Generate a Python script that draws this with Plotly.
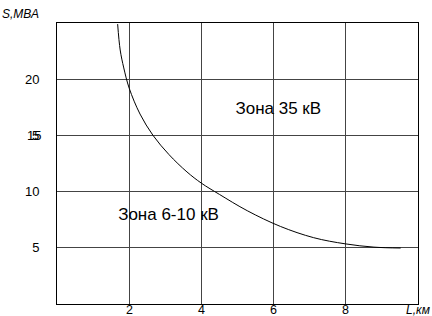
import plotly.graph_objects as go

# Curve data (L, km vs S, MVA)
L_km = [1.68, 1.75, 1.85, 2.0, 2.3, 2.66, 3.1, 3.6, 4.0, 4.5, 5.27, 6.19, 7.11, 7.99, 8.78, 9.52]
S_mva = [24.9, 22.6, 21.0, 19.2, 16.9, 15.0, 13.3, 11.75, 10.75, 9.75, 8.3, 6.9, 5.9, 5.35, 5.06, 4.98]

x_ticks = [2, 4, 6, 8]
x_ticktext = ["2", "4", "6", "8"]
y_ticks = [5, 10, 15, 20]
y_ticktext = ["5", "10", "", "20"]

zone_labels = ["Зона 35 кВ", "Зона 6-10 кВ"]
zone_x = [6.13, 3.09]
zone_y = [17.26, 7.87]

FONT = "Liberation Sans, Arial, sans-serif"

L_MARGIN, R_MARGIN, T_MARGIN, B_MARGIN = 57, 14, 23, 12
PLOT_W = 432 - L_MARGIN - R_MARGIN

fig = go.Figure()
fig.add_trace(go.Scatter(
    x=L_km, y=S_mva, mode="lines", line=dict(color="black", width=1, shape="spline", smoothing=1.0),
    showlegend=False, hoverinfo="skip"))

fig.add_trace(go.Scatter(
    x=zone_x, y=zone_y, mode="text", text=zone_labels,
    textfont=dict(family=FONT, size=17, color="black"),
    showlegend=False, hoverinfo="skip"))

annotations = [
    dict(text="<i>S,МВА</i>", xref="paper", yref="paper", x=-57 / PLOT_W, y=1.0,
         xanchor="left", yanchor="bottom", showarrow=False,
         font=dict(family=FONT, size=12, color="black")),
    dict(text="<i>L,км</i>", xref="paper", yref="paper", x=1.0, y=0, yshift=-5.5,
         xanchor="center", yanchor="middle", showarrow=False, borderpad=0,
         font=dict(family=FONT, size=12, color="black")),
    # overlapping "15" tick label as in the reference
    dict(text="15", xref="paper", yref="y", x=(43 - L_MARGIN) / PLOT_W, y=15,
         xanchor="right", yanchor="middle", showarrow=False,
         font=dict(family=FONT, size=13, color="black")),
    dict(text="5", xref="paper", yref="y", x=(35 - L_MARGIN) / PLOT_W, y=15,
         xanchor="center", yanchor="middle", showarrow=False,
         font=dict(family=FONT, size=13, color="black")),
]
# x tick labels placed just under the axis
for v, t in zip(x_ticks, x_ticktext):
    annotations.append(dict(text=t, xref="x", yref="paper", x=v, y=0, yshift=-5.5,
                            xanchor="center", yanchor="middle", showarrow=False, borderpad=0,
                            font=dict(family=FONT, size=12.5, color="black")))

fig.update_layout(
    width=432, height=316,
    margin=dict(l=L_MARGIN, r=R_MARGIN, t=T_MARGIN, b=B_MARGIN),
    paper_bgcolor="white", plot_bgcolor="white",
    font=dict(family=FONT, size=13, color="black"),
    xaxis=dict(range=[0, 10], tickvals=x_ticks, showticklabels=False,
               showgrid=True, gridcolor="#444", gridwidth=1,
               showline=True, linecolor="black", linewidth=1, mirror=True,
               zeroline=False, ticks="", automargin=False, fixedrange=True),
    yaxis=dict(range=[0, 25], tickvals=y_ticks, ticktext=y_ticktext,
               showgrid=True, gridcolor="#444", gridwidth=1,
               showline=True, linecolor="black", linewidth=1, mirror=True,
               zeroline=False, ticks="", ticklabelstandoff=14, automargin=False,
               fixedrange=True),
    annotations=annotations,
)

fig.write_html("out.html", config={"displayModeBar": False, "staticPlot": True})

# remove the default page margin so the figure sits at the window's top-left
with open("out.html", encoding="utf-8") as f:
    html = f.read()
html = html.replace("<body>", '<body style="margin:0;padding:0;overflow:hidden">', 1)
html = html.replace("<head>", "<head><style>html,body{margin:0;padding:0;}</style>", 1)
with open("out.html", "w", encoding="utf-8") as f:
    f.write(html)
